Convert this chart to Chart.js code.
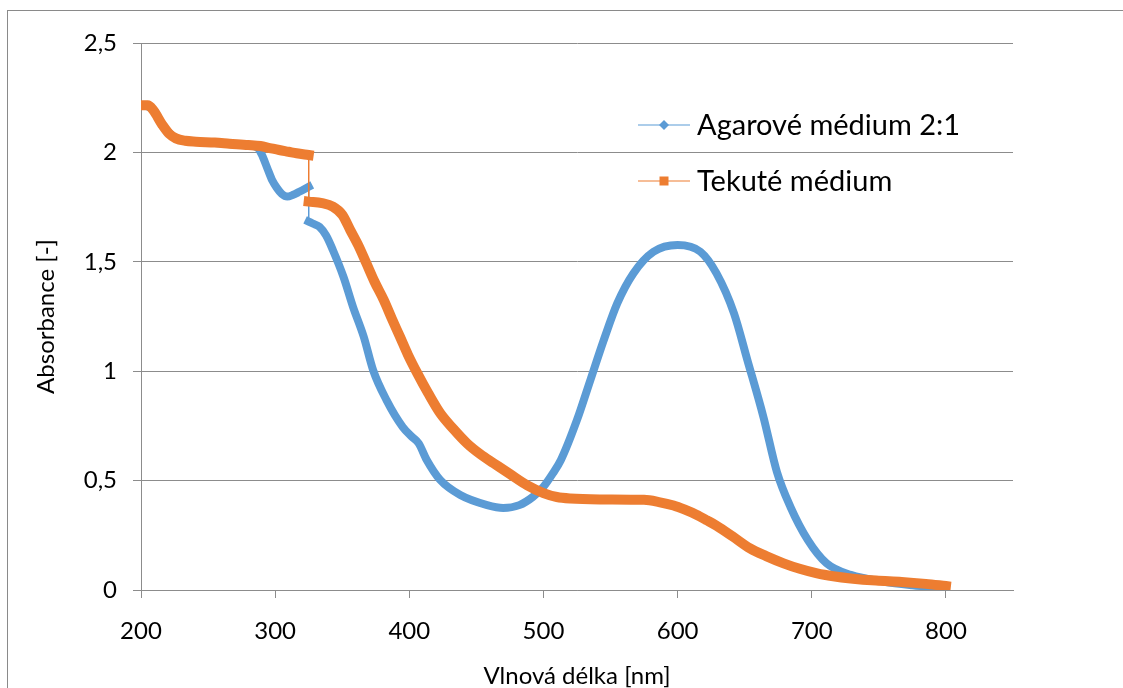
<!DOCTYPE html>
<html>
<head>
<meta charset="utf-8">
<script src="https://cdn.jsdelivr.net/npm/chart.js@4"></script>
<style>
  body { margin: 0; background: #fff; }
  #wrap { width: 1123px; height: 688px; position: relative; }
</style>
</head>
<body>
<div id="wrap"><canvas id="myChart"></canvas></div>
<script>
// series names
const seriesNames = ['Agarové médium 2:1', 'Tekuté médium'];

// Agarové médium 2:1 (325 nm appears twice - detector switch jump)
const agarX = [200, 205, 210, 215, 220, 226, 235, 250, 265, 280, 287, 290, 294, 298, 301, 305, 309, 313, 318, 325,
    325, 328, 333, 338, 343, 351, 358, 366, 373, 383, 395, 402, 407, 413, 423, 438, 458, 470, 482, 492,
    500, 507, 513, 525, 535, 545, 555, 567, 582, 600, 617, 629, 642, 652, 664, 674, 684, 697, 711, 729,
    754, 775, 800];
const agarY = [2.215, 2.21, 2.19, 2.135, 2.095, 2.065, 2.052, 2.045, 2.038, 2.032, 2.02, 1.99, 1.93, 1.87, 1.84, 1.81, 1.798, 1.805, 1.82, 1.843,
    1.684, 1.675, 1.66, 1.62, 1.554, 1.43, 1.295, 1.158, 1.005, 0.868, 0.746, 0.70, 0.67, 0.594, 0.503, 0.434, 0.388, 0.375, 0.388, 0.425,
    0.472, 0.533, 0.594, 0.777, 0.96, 1.143, 1.31, 1.447, 1.546, 1.577, 1.546, 1.447, 1.265, 1.051, 0.79, 0.54, 0.381, 0.229, 0.122, 0.069,
    0.038, 0.022, 0.008];

// Tekuté médium
const tekuteX = [200, 205, 209, 216, 221, 226, 233, 241, 255, 266, 280, 289, 296, 303, 310, 316, 325,
    325, 335, 343, 350, 356, 362, 368, 374, 381, 387, 393, 399, 406, 414, 423, 433, 443, 453, 463, 475,
    488, 500, 510, 520, 542, 575, 586, 597, 605, 614, 622, 629, 641, 654, 666, 679, 691, 704, 716, 729,
    748, 767, 785, 800];
const tekuteY = [2.215, 2.215, 2.194, 2.125, 2.085, 2.064, 2.053, 2.049, 2.045, 2.04, 2.034, 2.029, 2.02, 2.011, 2.003, 1.996, 1.988,
    1.775, 1.768, 1.752, 1.715, 1.645, 1.575, 1.493, 1.41, 1.325, 1.24, 1.158, 1.075, 0.99, 0.9, 0.808, 0.735, 0.67, 0.62, 0.579, 0.53,
    0.478, 0.443, 0.425, 0.418, 0.414, 0.412, 0.402, 0.386, 0.368, 0.344, 0.318, 0.294, 0.245, 0.19, 0.155, 0.122, 0.097, 0.076, 0.063, 0.053,
    0.043, 0.037, 0.028, 0.018];

// tick labels
const xTicks = [200, 300, 400, 500, 600, 700, 800];
const yTicks = ['0', '0,5', '1', '1,5', '2', '2,5'];

const BLUE = '#5B9BD5';
const ORANGE = '#ED7D31';
const GRID = '#8c8c8c';
const FONT = 'Lato';

// split series where the wavelength repeats (jump in the measurement)
function splitSeries(xs, ys) {
    const parts = [[]];
    for (let i = 0; i < xs.length; i++) {
        if (i > 0 && xs[i] === xs[i - 1]) parts.push([]);
        parts[parts.length - 1].push({ x: xs[i], y: ys[i] });
    }
    return parts;
}

function makeDatasets(xs, ys, color, width, order) {
    const parts = splitSeries(xs, ys);
    const sets = [];
    parts.forEach(p => {
        sets.push({
            data: p,
            borderColor: color,
            backgroundColor: color,
            borderWidth: width,
            borderCapStyle: 'square',
            borderJoinStyle: 'round',
            pointRadius: 0,
            cubicInterpolationMode: 'monotone',
            order: order
        });
    });
    // thin connector over the jump
    for (let i = 1; i < parts.length; i++) {
        const a = parts[i - 1][parts[i - 1].length - 1];
        const b = parts[i][0];
        sets.push({
            data: [a, b],
            borderColor: color,
            borderWidth: 1,
            pointRadius: 0,
            order: order
        });
    }
    return sets;
}

const frame = {
    id: 'frame',
    beforeDraw(chart) {
        const ctx = chart.ctx;
        ctx.save();
        ctx.fillStyle = '#fff';
        ctx.fillRect(0, 0, chart.width, chart.height);
        ctx.strokeStyle = '#8a8a8a';
        ctx.lineWidth = 1;
        ctx.strokeRect(7.5, 10.5, 1200, 800);
        ctx.restore();
    }
};

const excelLegend = {
    id: 'excelLegend',
    afterDraw(chart) {
        const ctx = chart.ctx;
        const rows = [
            { label: seriesNames[0], color: BLUE, marker: 'diamond', y: 125 },
            { label: seriesNames[1], color: ORANGE, marker: 'square', y: 181 }
        ];
        ctx.save();
        rows.forEach(r => {
            ctx.strokeStyle = r.color;
            ctx.lineWidth = 1.2;
            ctx.beginPath();
            ctx.moveTo(638, r.y);
            ctx.lineTo(690, r.y);
            ctx.stroke();
            ctx.fillStyle = r.color;
            ctx.beginPath();
            if (r.marker === 'diamond') {
                ctx.moveTo(664, r.y - 5);
                ctx.lineTo(669, r.y);
                ctx.lineTo(664, r.y + 5);
                ctx.lineTo(659, r.y);
                ctx.closePath();
            } else {
                ctx.rect(659.5, r.y - 4.5, 9, 9);
            }
            ctx.fill();
            ctx.fillStyle = '#000';
            ctx.font = '29px ' + FONT;
            ctx.textBaseline = 'middle';
            ctx.fillText(r.label, 697, r.y + 1);
        });
        ctx.restore();
    }
};

const ctx = document.getElementById('myChart').getContext('2d');
const myChart = new Chart(ctx, {
    type: 'line',
    data: {
        datasets: [
            ...makeDatasets(tekuteX, tekuteY, ORANGE, 10, 1),
            ...makeDatasets(agarX, agarY, BLUE, 8, 2)
        ]
    },
    options: {
        responsive: true,
        maintainAspectRatio: false,
        animation: false,
        layout: { padding: { top: 43, right: 110, left: 0, bottom: 0 } },
        plugins: {
            legend: { display: false },
            tooltip: { enabled: false }
        },
        scales: {
            x: {
                type: 'linear',
                min: 200,
                max: 850,
                afterFit: s => { s.height = 98; },
                afterBuildTicks: s => { s.ticks = xTicks.map(v => ({ value: v })); },
                ticks: {
                    color: '#000',
                    font: { family: FONT, size: 24 },
                    padding: 19,
                    maxRotation: 0
                },
                grid: { drawOnChartArea: false, drawTicks: true, tickLength: 8, color: GRID },
                border: { color: GRID },
                title: {
                    display: true,
                    text: 'Vlnová délka [nm]',
                    color: '#000',
                    font: { family: FONT, size: 24, lineHeight: 1.0 },
                    padding: { top: 0, bottom: 0 }
                }
            },
            y: {
                min: 0,
                max: 2.5,
                afterFit: s => { s.width = 141; },
                ticks: {
                    stepSize: 0.5,
                    color: '#000',
                    font: { family: FONT, size: 24 },
                    padding: 16,
                    callback: (v, i) => yTicks[i]
                },
                grid: { color: GRID, tickLength: 8 },
                border: { color: GRID },
                title: {
                    display: true,
                    text: 'Absorbance [-]',
                    color: '#000',
                    font: { family: FONT, size: 24 },
                    padding: { top: 32, bottom: 0 }
                }
            }
        }
    },
    plugins: [frame, excelLegend]
});
</script>
</body>
</html>
